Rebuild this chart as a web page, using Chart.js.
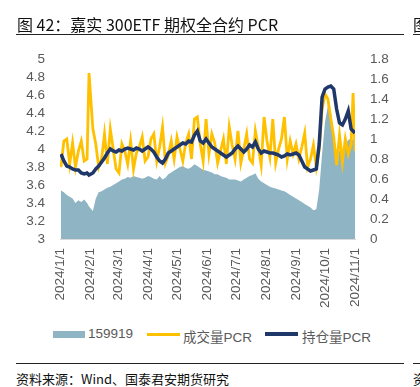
<!DOCTYPE html>
<html>
<head>
<meta charset="utf-8">
<script src="https://cdn.jsdelivr.net/npm/chart.js@4"></script>
<style>
	html, body { margin: 0; padding: 0; background: #fff; }
	#wrap { position: relative; width: 420px; height: 387px; overflow: hidden; font-family: "Liberation Sans", "Noto Sans CJK SC", sans-serif; }
	#chart1 { position: absolute; left: 0; top: 0; }
	.txt { position: absolute; white-space: nowrap; }
	.rule { position: absolute; height: 1px; background: #222; }
	.title { font-family: "Noto Sans CJK SC", sans-serif; font-size: 16px; color: #111; top: 12px; }
	.src { font-family: "Noto Sans CJK SC", sans-serif; font-size: 13px; color: #111; top: 369px; }
	.leg { font-size: 13.5px; color: #595959; top: 326px; font-family: "Liberation Sans", "Noto Sans CJK SC", sans-serif; }
	.key { position: absolute; }
</style>
</head>
<body>
<div id="wrap">
	<canvas id="chart1" width="420" height="320"></canvas>
	<div class="txt title" style="left:17px;">图 42：嘉实 300ETF 期权全合约 PCR</div>
	<div class="txt title" style="left:413px;">图</div>
	<div class="rule" style="left:16px; top:34px; width:388px;"></div>
	<div class="rule" style="left:413px; top:34px; width:7px;"></div>

	<div class="key" style="left:53px; top:331px; width:32px; height:7px; background:#8FB5C5;"></div>
	<div class="txt leg" style="left:88px;">159919</div>
	<div class="key" style="left:147px; top:333px; width:33px; height:3px; background:#FFC000;"></div>
	<div class="txt leg" style="left:183px;">成交量PCR</div>
	<div class="key" style="left:265px; top:332px; width:33px; height:4px; background:#1F3769;"></div>
	<div class="txt leg" style="left:302px;">持仓量PCR</div>

	<div class="rule" style="left:16px; top:363px; width:388px;"></div>
	<div class="rule" style="left:413px; top:363px; width:7px;"></div>
	<div class="txt src" style="left:16px;">资料来源：Wind、国泰君安期货研究</div>
	<div class="txt src" style="left:413px;">资</div>
</div>
<script>
// dates (2024)
const dates = [
	'1/2','1/5','1/8','1/11','1/14','1/17','1/20','1/23','1/26','1/29','1/31',
	'2/4','2/7','2/10','2/13','2/16','2/19','2/22','2/25','2/28',
	'3/2','3/5','3/8','3/11','3/14','3/17','3/20','3/23','3/26','3/29',
	'4/1','4/4','4/7','4/10','4/13','4/16','4/19','4/22','4/25','4/28',
	'5/1','5/4','5/7','5/10','5/13','5/16','5/19','5/22','5/25','5/28','5/31',
	'6/3','6/6','6/9','6/12','6/15','6/18','6/21','6/24','6/27','6/30',
	'7/3','7/6','7/9','7/12','7/15','7/18','7/21','7/24','7/27','7/30',
	'8/2','8/5','8/8','8/11','8/14','8/17','8/20','8/23','8/26','8/29',
	'9/1','9/4','9/7','9/10','9/13','9/16','9/19','9/22','9/25','9/28',
	'10/1','10/4','10/7','10/10','10/13','10/16','10/19','10/22','10/25','10/28','10/30','11/1'
];

// 159919 price (left axis)
const etf = [
	3.54, 3.52, 3.49, 3.47, 3.45, 3.40, 3.43, 3.41, 3.44, 3.40, 3.36,
	3.31, 3.45, 3.52, 3.53, 3.55, 3.57, 3.58, 3.60, 3.62,
	3.64, 3.66, 3.67, 3.69, 3.68, 3.70, 3.69, 3.68, 3.67, 3.68,
	3.70, 3.69, 3.67, 3.66, 3.70, 3.66, 3.68, 3.72, 3.74, 3.76,
	3.78, 3.80, 3.81, 3.79, 3.78, 3.80, 3.83, 3.81, 3.79, 3.77, 3.76,
	3.75, 3.74, 3.72, 3.72, 3.70, 3.69, 3.68, 3.66, 3.66, 3.66,
	3.65, 3.64, 3.66, 3.68, 3.70, 3.71, 3.73, 3.67, 3.64, 3.62,
	3.60, 3.58, 3.57, 3.56, 3.55, 3.54, 3.53, 3.51, 3.49, 3.47,
	3.45, 3.43, 3.41, 3.39, 3.37, 3.35, 3.32, 3.33, 3.55, 3.95,
	4.30, 4.48, 4.42, 4.18, 3.95, 3.98, 3.96, 4.05, 4.10, 4.12, 4.10, 4.12
];

// 成交量PCR (right axis)
const volPcr = [
	0.72, 0.98, 1.00, 0.75, 0.96, 0.72, 0.88, 0.98, 0.78, 0.80, 1.66,
	1.10, 0.95, 0.72, 0.80, 1.05, 0.75, 1.10, 0.90, 0.70,
	0.66, 0.95, 0.88, 0.75, 0.98, 0.70, 0.86, 0.92, 1.02, 0.78,
	0.82, 1.00, 1.05, 0.78, 0.92, 1.12, 0.76, 0.84, 0.98, 0.80,
	1.02, 0.90, 0.78, 0.96, 1.05, 0.80, 1.20, 1.22, 0.95, 0.78, 1.20,
	0.85, 1.05, 0.96, 0.76, 0.88, 1.00, 0.75, 1.12, 0.94, 0.80,
	1.08, 0.76, 0.90, 1.05, 0.80, 0.76, 1.08, 0.92, 0.74, 1.22,
	0.98, 0.82, 1.20, 0.76, 0.90, 1.00, 1.22, 0.80, 0.98, 0.85,
	0.95, 0.80, 0.92, 1.06, 0.72, 0.80, 0.94, 0.72, 0.90, 1.30,
	1.45, 1.40, 1.20, 1.02, 0.74, 1.04, 0.77, 1.00, 0.85, 0.95, 1.46, 0.88
];

// 持仓量PCR (right axis)
const oiPcr = [
	0.85, 0.78, 0.73, 0.72, 0.70, 0.69, 0.69, 0.66, 0.65, 0.66, 0.64,
	0.66, 0.70, 0.73, 0.77, 0.81, 0.86, 0.90, 0.88, 0.87,
	0.89, 0.88, 0.90, 0.91, 0.90, 0.89, 0.91, 0.90, 0.88, 0.90,
	0.92, 0.90, 0.87, 0.82, 0.78, 0.76, 0.80, 0.86, 0.88, 0.90,
	0.92, 0.94, 0.96, 0.95, 0.98, 0.97, 1.04, 1.08, 0.98, 0.96, 1.00,
	0.96, 0.92, 0.90, 0.88, 0.86, 0.84, 0.82, 0.84, 0.86, 0.90,
	0.93, 0.90, 0.87, 0.90, 0.94, 0.92, 0.97, 0.90, 0.86, 0.88,
	0.87, 0.86, 0.86, 0.85, 0.84, 0.82, 0.83, 0.85, 0.84, 0.85,
	0.86, 0.84, 0.78, 0.72, 0.70, 0.68, 0.69, 0.70, 0.95, 1.42,
	1.50, 1.52, 1.53, 1.50, 1.30, 1.16, 1.14, 1.20, 1.28, 1.10, 1.08, 1.06
];

// axis ticks
const monthTicks = ['1/1','2/1','3/1','4/1','5/1','6/1','7/1','8/1','9/1','10/1','11/1'];
const leftTicks = [3, 3.2, 3.4, 3.6, 3.8, 4, 4.2, 4.4, 4.6, 4.8, 5];
const rightTicks = [0, 0.2, 0.4, 0.6, 0.8, 1, 1.2, 1.4, 1.6, 1.8];

function dayOf(md) {
	const p = md.split('/');
	return Math.round((Date.UTC(2024, Number(p[0]) - 1, Number(p[1])) - Date.UTC(2024, 0, 1)) / 86400000);
}

const days = dates.map(dayOf);
const monthDays = monthTicks.map(dayOf);
const pts = arr => arr.map((v, i) => ({ x: days[i], y: v }));

const tickFont = { family: '"Liberation Sans", sans-serif', size: 13.5 };
const grey = '#595959';

const ctx1 = document.getElementById('chart1').getContext('2d');
const myChart = new Chart(ctx1, {
	type: 'line',
	data: {
		datasets: [{
			label: '持仓量PCR',
			data: pts(oiPcr),
			yAxisID: 'y1',
			borderColor: '#1F3769',
			borderWidth: 3.5,
			pointRadius: 0,
			fill: false,
			order: 0
		}, {
			label: '成交量PCR',
			data: pts(volPcr),
			yAxisID: 'y1',
			borderColor: '#FFC000',
			borderWidth: 2.8,
			pointRadius: 0,
			fill: false,
			order: 1
		}, {
			label: '159919',
			data: pts(etf),
			yAxisID: 'y',
			borderWidth: 0,
			borderColor: 'rgba(0,0,0,0)',
			backgroundColor: '#8FB5C5',
			pointRadius: 0,
			fill: 'start',
			order: 2
		}]
	},
	options: {
		responsive: false,
		devicePixelRatio: 1,
		animation: false,
		layout: { padding: { left: 0, right: 0, top: 59, bottom: 0 } },
		plugins: {
			legend: { display: false },
			tooltip: { enabled: false }
		},
		scales: {
			x: {
				type: 'linear',
				min: 0,
				max: 305,
				afterBuildTicks: s => { s.ticks = monthDays.map(v => ({ value: v })); },
				afterFit: s => { s.height = 81; },
				grid: { display: false, drawTicks: false },
				border: { display: true, color: '#D9D9D9', width: 1 },
				ticks: {
					autoSkip: false,
					maxRotation: 90,
					minRotation: 90,
					padding: 9,
					color: grey,
					font: tickFont,
					callback: v => '2024/' + monthTicks[monthDays.indexOf(v)]
				}
			},
			y: {
				position: 'left',
				min: 3,
				max: 5,
				afterBuildTicks: s => { s.ticks = leftTicks.map(v => ({ value: v })); },
				afterFit: s => { s.width = 60; },
				grid: { display: false, drawTicks: false },
				border: { display: false },
				ticks: {
					autoSkip: false,
					padding: 15,
					color: grey,
					font: tickFont,
					callback: v => String(Number(v.toFixed(1)))
				}
			},
			y1: {
				position: 'right',
				min: 0,
				max: 1.8,
				afterBuildTicks: s => { s.ticks = rightTicks.map(v => ({ value: v })); },
				afterFit: s => { s.width = 65; },
				grid: { display: false, drawTicks: false },
				border: { display: false },
				ticks: {
					autoSkip: false,
					padding: 15,
					color: grey,
					font: tickFont,
					callback: v => String(Number(v.toFixed(1)))
				}
			}
		}
	}
});
</script>
</body>
</html>
